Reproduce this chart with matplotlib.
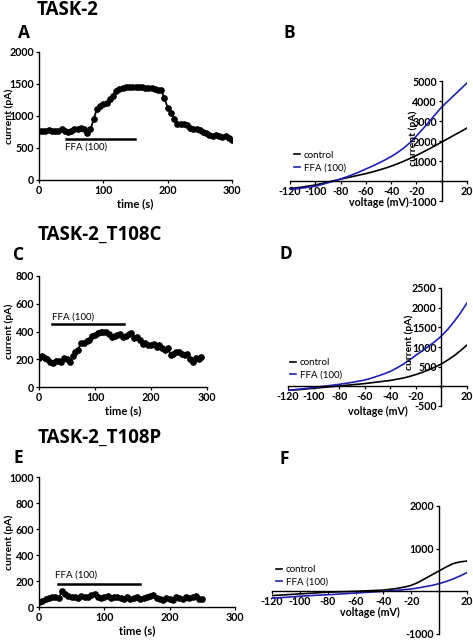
import numpy as np
import matplotlib
matplotlib.use('Agg')
import matplotlib.pyplot as plt

plt.rcParams['font.family'] = ['Lato', 'DejaVu Sans']

# ---- time courses (current in pA) ----
tA = list(range(0, 305, 5))
iA = [770, 760, 770, 780, 765, 760, 770, 790, 760, 750, 770, 790, 800, 810, 790, 740,
      790, 950, 1110, 1160, 1190, 1200, 1270, 1320, 1390, 1420, 1430, 1450, 1460, 1455,
      1460, 1450, 1455, 1445, 1440, 1430, 1420, 1410, 1400, 1280, 1130, 1050, 950, 880,
      870, 870, 860, 820, 800, 790, 780, 750, 740, 700, 690, 700, 690, 670, 680, 650, 630]

tC = list(range(0, 295, 5))
iC = [210, 220, 210, 200, 180, 170, 190, 185, 180, 210, 200, 180, 220, 250, 270, 320,
      320, 330, 340, 370, 375, 390, 400, 400, 395, 380, 360, 370, 375, 380, 360, 370,
      380, 390, 350, 360, 340, 310, 320, 300, 300, 310, 290, 300, 280, 270, 280, 230,
      240, 250, 250, 240, 230, 240, 200, 180, 210, 200, 215]

tE = list(range(0, 255, 5))
iE = [40, 50, 65, 70, 80, 75, 70, 120, 100, 85, 75, 80, 70, 85, 75, 80, 90, 100, 80,
      70, 75, 85, 70, 75, 80, 70, 60, 75, 65, 70, 80, 60, 70, 80, 85, 90, 70, 60, 55,
      70, 65, 55, 75, 70, 60, 75, 70, 75, 85, 60, 65]

# ---- I-V curves (voltage in mV, current in pA) ----
volt = list(range(-120, 25, 5))
ctlB = [-380, -340, -300, -250, -200, -130, -50, 20, 90, 160, 230, 300, 370, 450, 540,
        635, 740, 860, 990, 1130, 1280, 1440, 1600, 1770, 1950, 2120, 2300, 2470, 2650]
ffaB = [-420, -390, -350, -310, -260, -180, -90, 0, 100, 210, 330, 460, 600, 740, 890,
        1050, 1220, 1420, 1650, 1920, 2250, 2600, 2960, 3330, 3700, 4000, 4300, 4600, 4900]
ctlD = [-100, -90, -80, -65, -50, -35, -20, -5, 10, 25, 40, 55, 70, 90, 110,
        130, 150, 180, 210, 250, 300, 355, 420, 490, 570, 670, 780, 910, 1050]
ffaD = [-100, -85, -70, -50, -30, -10, 10, 30, 50, 75, 100, 130, 160, 205, 260,
        315, 380, 465, 560, 670, 790, 900, 1020, 1140, 1280, 1450, 1650, 1870, 2120]
ctlF = [-100, -90, -80, -70, -60, -50, -40, -30, -20, -15, -10, -5, 0, 8, 15,
        22, 30, 48, 70, 100, 140, 210, 300, 390, 480, 570, 650, 690, 710]
ffaF = [-160, -150, -140, -128, -115, -105, -95, -88, -80, -70, -60, -50, -40, -30, -20,
        -10, 0, 12, 25, 40, 55, 80, 110, 140, 180, 230, 290, 360, 440]

W, H = 473, 640
fig = plt.figure(figsize=(W / 100, H / 100), dpi=100)


def box(l, t, r, b):
    return [l / W, 1 - b / H, (r - l) / W, (b - t) / H]


tick_kw = dict(labelsize=7.7, width=0.9, length=2.5, pad=1)


def time_panel(l, t, r, b, tt, ii, ymax, ystep, bar, lab_y, lab_x):
    ax = fig.add_axes(box(l, t, r, b))
    ax.plot(tt, ii, '-o', color='black', ms=3.8, lw=1.3)
    ax.set_xlim(0, 300)
    ax.set_ylim(0, ymax)
    ax.set_xticks([0, 100, 200, 300])
    ax.set_yticks(np.arange(0, ymax + 1, ystep))
    for s in ['top', 'right']:
        ax.spines[s].set_visible(False)
    for s in ['left', 'bottom']:
        ax.spines[s].set_linewidth(1.0)
    ax.tick_params(**tick_kw)
    for lbl in ax.get_xticklabels() + ax.get_yticklabels():
        lbl.set_fontweight('bold')
    ax.set_xlabel('time (s)', fontsize=8, fontweight='bold', labelpad=2)
    ax.set_ylabel('current (pA)', fontsize=7.5, fontweight='bold')
    ax.yaxis.set_label_coords((14 - l) / (r - l), 0.5)
    ax.plot(bar[:2], [bar[2], bar[2]], color='black', lw=1.8)
    ax.text(lab_x, lab_y, 'FFA (100)', fontsize=7, va='center', ha='left')
    ax.patch.set_alpha(0)
    return ax


def iv_panel(l, t, r, b, ctl, ffa, ymin, ymax, ystep, xlab_y, ylab, leg):
    ax = fig.add_axes(box(l, t, r, b))
    ax.plot(volt, ctl, color='black', lw=1.2, label='control')
    ax.plot(volt, ffa, color='#1f1fb4', lw=1.2, label='FFA (100)')
    ax.set_xlim(-120, 20)
    ax.set_ylim(ymin, ymax)
    ax.spines['left'].set_position(('data', 0))
    ax.spines['bottom'].set_position(('data', 0))
    for s in ['top', 'right']:
        ax.spines[s].set_visible(False)
    for s in ['left', 'bottom']:
        ax.spines[s].set_linewidth(1.0)
    xt = list(range(-120, 30, 20))
    yt = list(range(ymin, ymax + 1, ystep))
    ax.set_xticks(xt)
    ax.set_yticks(yt)
    ax.tick_params(**tick_kw)
    ax.set_xticklabels([str(v) if v != 0 else '' for v in xt])
    ax.set_yticklabels([str(v) if v != 0 else '' for v in yt])
    for lbl in ax.get_xticklabels() + ax.get_yticklabels():
        lbl.set_fontweight('bold')
    ax.text(0.5, xlab_y, 'voltage (mV)', transform=ax.transAxes, fontsize=7.7,
            fontweight='bold', ha='center', va='center')
    if ylab is not None:
        ax.text(ylab[0], ylab[1], 'current (pA)', rotation=90, fontsize=7.5,
                fontweight='bold', ha='center', va='center',
                transform=ax.get_yaxis_transform())
    ax.legend(loc='upper left', bbox_to_anchor=leg, frameon=False, fontsize=7,
              handlelength=0.6, handletextpad=0.4, labelspacing=0.35, borderaxespad=0)
    ax.patch.set_alpha(0)
    return ax


time_panel(39, 52, 232, 180, tA, iA, 2000, 500, (42, 149, 640), 520, 40)
time_panel(39, 276, 207, 387, tC, iC, 800, 200, (24, 152, 452), 505, 24)
time_panel(39, 477, 235, 607, tE, iE, 1000, 200, (29, 155, 180), 245, 24)

iv_panel(290, 81, 467, 201, ctlB, ffaB, -1000, 5000, 1000, -0.01,
         (0.695, 2120), (0.0, 0.45))
iv_panel(288, 288, 467, 406, ctlD, ffaD, -500, 2500, 500, -0.05,
         (0.68, 1125), (-0.01, 0.44))
iv_panel(272, 506, 467, 634, ctlF, ffaF, -1000, 2000, 1000, 0.17,
         None, (0.0, 0.57))

# titles and panel letters
tf = dict(fontsize=13.5, fontweight='bold', va='center', family=['Open Sans', 'DejaVu Sans'])
fig.text(37 / W, 1 - 10 / H, 'TASK-2', **tf)
fig.text(38 / W, 1 - 235 / H, 'TASK-2_T108C', **tf)
fig.text(38 / W, 1 - 438 / H, 'TASK-2_T108P', **tf)
lf = dict(tf, fontsize=12.5)
for ch, x, y in [('A', 18, 33), ('B', 283, 33), ('C', 13, 255),
                 ('D', 279, 254), ('E', 13, 458), ('F', 279, 459)]:
    fig.text(x / W, 1 - y / H, ch, **lf)

fig.savefig('out.png', dpi=100)
